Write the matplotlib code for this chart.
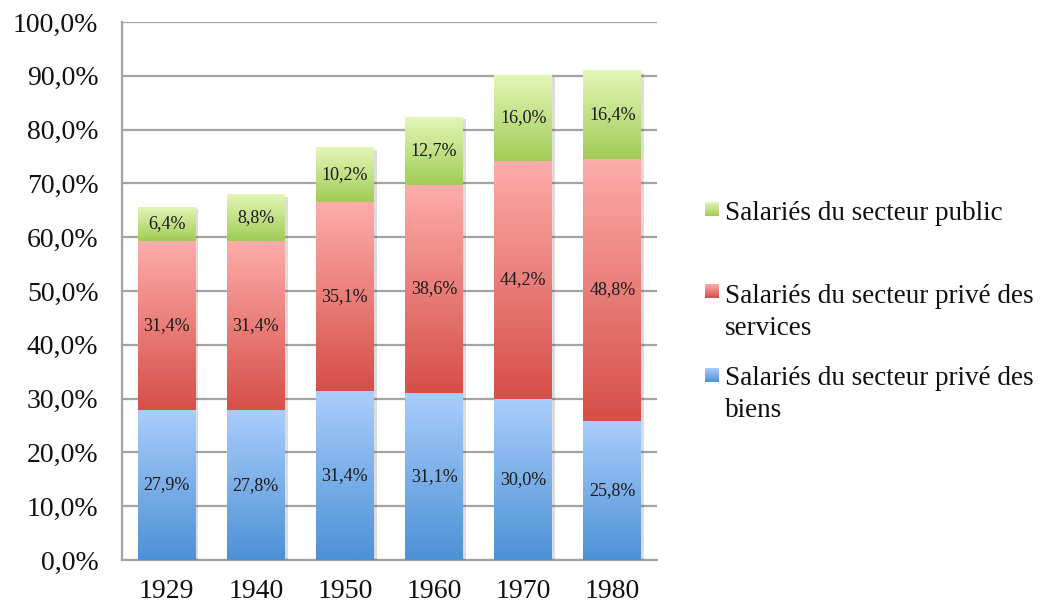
import numpy as np
import matplotlib
matplotlib.use('Agg')
from matplotlib import pyplot as plt
from matplotlib import patheffects as pe
from matplotlib.colors import LinearSegmentedColormap

years = ['1929', '1940', '1950', '1960', '1970', '1980']
biens = [27.9, 27.8, 31.4, 31.1, 30.0, 25.8]
services = [31.4, 31.4, 35.1, 38.6, 44.2, 48.8]
public = [6.4, 8.8, 10.2, 12.7, 16.0, 16.4]

series = [
    (['Salariés du secteur privé des', 'biens'], biens, '#a9cdfb', '#4e91d6'),
    (['Salariés du secteur privé des', 'services'], services, '#fdacaa', '#d64f49'),
    (['Salariés du secteur public'], public, '#e4f6b8', '#a1cc57'),
]

plt.rcParams['font.family'] = ['Liberation Serif', 'DejaVu Serif']

fig = plt.figure(figsize=(10.54, 6.08), dpi=100)
ax = fig.add_axes([0.1158, 0.0789, 0.5075, 0.885])

x = np.arange(len(years))
bottom = np.zeros(len(years))
width = 0.65
grid_col = '#a3a3a3'

for label, vals, top_col, bot_col in series:
    cmap = LinearSegmentedColormap.from_list('g', [bot_col, top_col])
    bars = ax.bar(x, vals, width, bottom=bottom, color=top_col, zorder=3,
                  path_effects=[pe.SimplePatchShadow(offset=(2, -2), alpha=0.18), pe.Normal()])
    for b, v in zip(bars, vals):
        x0, y0 = b.get_x(), b.get_y()
        h = b.get_height()
        grad = np.linspace(0, 1, 64).reshape(-1, 1)
        im = ax.imshow(grad, cmap=cmap, origin='lower', aspect='auto',
                       extent=[x0, x0 + width, y0, y0 + h], zorder=4)
        im.set_clip_path(b)
        ax.text(x0 + width / 2, y0 + h / 2, f'{v:.1f}%'.replace('.', ','),
                ha='center', va='center', fontsize=13, color='#1a1a1a', zorder=5)
    bottom += np.array(vals)

ax.set_xlim(-0.5, len(years) - 0.5)
ax.set_ylim(0, 100)
ax.set_yticks(np.arange(0, 101, 10))
ax.set_yticklabels([f'{t:.1f}%'.replace('.', ',') for t in np.arange(0, 101, 10)])
ax.set_xticks(x)
ax.set_xticklabels(years)
ax.tick_params(axis='both', length=0, labelsize=20, colors='#111111')
ax.tick_params(axis='y', pad=17)
ax.tick_params(axis='x', pad=14)
ax.yaxis.grid(True, color=grid_col, linewidth=1.6, zorder=0)
ax.set_axisbelow(True)
for s in ['top', 'right']:
    ax.spines[s].set_visible(False)
for s in ['left', 'bottom']:
    ax.spines[s].set_color(grid_col)
    ax.spines[s].set_linewidth(1.6)

# legend drawn by hand so the square sits on the first line
W, H = 1054, 608
legend_rows = [(series[2], 202, 220), (series[1], 284, 303), (series[0], 368, 385)]
for (lines, vals, top_col, bot_col), sq_top, base in legend_rows:
    sq = fig.add_axes([705 / W, 1 - (sq_top + 14) / H, 14 / W, 14 / H])
    cm = LinearSegmentedColormap.from_list('g', [bot_col, top_col])
    sq.imshow(np.linspace(0, 1, 32).reshape(-1, 1), cmap=cm, origin='lower', aspect='auto')
    sq.axis('off')
    for k, line in enumerate(lines):
        fig.text(725 / W, 1 - (base + 32 * k) / H, line, fontsize=19.5, va='baseline',
                 ha='left', color='#111111')

fig.savefig('out.png', dpi=100)
